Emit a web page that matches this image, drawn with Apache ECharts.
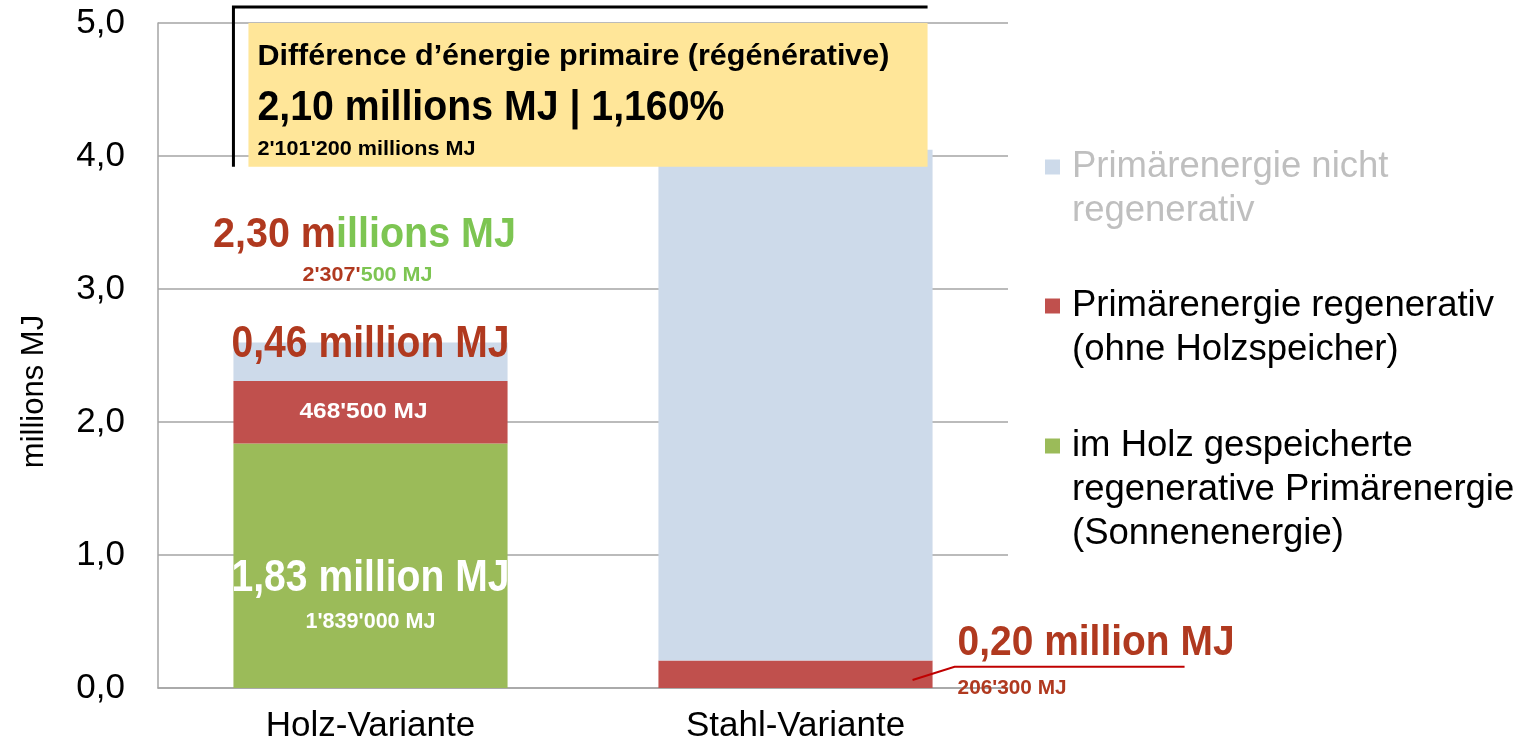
<!DOCTYPE html>
<html>
<head>
<meta charset="utf-8">
<script src="https://cdn.jsdelivr.net/npm/echarts@6.0.0/dist/echarts.min.js"></script>
<style>
html, body { margin: 0; padding: 0; background: #fff; }
#chart { width: 1537px; height: 751px; }
</style>
</head>
<body>
<div id="chart"></div>
<script>
// values in millions MJ
var categories = ['Holz-Variante', 'Stahl-Variante'];
var storedSolar = [1.839, 0];       // im Holz gespeichert
var renewable = [0.4685, 0.2063];   // regenerativ ohne Holzspeicher
var nonRenewable = [0.29, 3.84];    // nicht regenerativ
var yMin = 0, yMax = 5, yStep = 1;
var diffPercent = '1,160%';         // as printed in the source figure

var NAME_NON = 'Primärenergie nicht regenerativ';
var NAME_REN = 'Primärenergie regenerativ (ohne Holzspeicher)';
var NAME_SOL = 'im Holz gespeicherte regenerative Primärenergie (Sonnenenergie)';
var legendLines = {};
legendLines[NAME_NON] = ['Primärenergie nicht', 'regenerativ'];
legendLines[NAME_REN] = ['Primärenergie regenerativ', '(ohne Holzspeicher)'];
legendLines[NAME_SOL] = ['im Holz gespeicherte', 'regenerative Primärenergie', '(Sonnenenergie)'];

var FONT = '"Liberation Sans", Arial, sans-serif';
var RED_TXT = '#B0391F';
var GREEN_TXT = '#7DC552';

function mio(v) { return (Math.floor(v * 100 + 1e-6) / 100).toFixed(2).replace('.', ','); }
function mj(v) { return String(Math.round(v * 1e6)).replace(/\B(?=(\d{3})+(?!\d))/g, "'"); }

var chart = echarts.init(document.getElementById('chart'));

function legendFor(name, top, color) {
    return {
        data: [name],
        orient: 'vertical',
        left: 1045,
        top: top,
        padding: 0,
        icon: 'rect',
        itemWidth: 15,
        itemHeight: 15,
        selectedMode: false,
        formatter: function (n) {
            var lines = legendLines[n];
            // blank lines above so the square sits on the first line
            var pad = [];
            for (var i = 1; i < lines.length; i++) pad.push('');
            return pad.concat(lines).join('\n');
        },
        textStyle: {
            fontFamily: FONT,
            fontSize: 36.5,
            lineHeight: 44,
            color: color,
            padding: [0, 0, 0, 7]
        }
    };
}

var option = {
    animation: false,
    color: ['#9BBB59', '#C0504D', '#CDDAEA'],
    grid: { left: 158, right: 529, top: 23, bottom: 63 },
    legend: [
        legendFor(NAME_NON, 167 - 66, '#BFBFBF'),
        legendFor(NAME_REN, 306 - 66, '#000'),
        legendFor(NAME_SOL, 446 - 110, '#000')
    ],
    xAxis: {
        type: 'category',
        data: categories,
        axisLine: { lineStyle: { color: '#A5A5A5', width: 1.5 } },
        axisTick: { show: false },
        axisLabel: { color: '#000', fontFamily: FONT, fontSize: 35, margin: 21 }
    },
    yAxis: {
        type: 'value',
        min: yMin,
        max: yMax,
        interval: yStep,
        name: 'millions MJ',
        nameLocation: 'middle',
        nameRotate: 90,
        nameGap: 108,
        nameTextStyle: { color: '#000', fontFamily: FONT, fontSize: 31, padding: [0, 72, 0, 0] },
        axisLine: { show: true, lineStyle: { color: '#A5A5A5', width: 1.5 } },
        axisTick: { show: false },
        axisLabel: {
            color: '#000', fontFamily: FONT, fontSize: 35, margin: 33,
            formatter: function (v) { return v.toFixed(1).replace('.', ','); }
        },
        splitLine: { lineStyle: { color: '#A5A5A5', width: 1.5 } }
    },
    series: [
        { name: NAME_SOL, type: 'bar', stack: 'pe', barWidth: '64.5%', data: storedSolar },
        { name: NAME_REN, type: 'bar', stack: 'pe', data: renewable },
        { name: NAME_NON, type: 'bar', stack: 'pe', data: nonRenewable }
    ]
};
chart.setOption(option);

var measureCtx = document.createElement('canvas').getContext('2d');
// condensed bold text: Liberation Sans squeezed to a given width
function label(text, plain, size, width, x, y, fill, align, rich) {
    var font = 'bold ' + size + 'px ' + FONT;
    measureCtx.font = font;
    var sx = width / measureCtx.measureText(plain).width;
    var st = { text: text, x: 0, y: 0, font: font, fill: fill, align: align || 'left', verticalAlign: 'middle' };
    if (rich) st.rich = rich;
    return { type: 'text', z: 12, x: x, y: y, scaleX: sx, style: st };
}
function duo(size) {
    return { r: { fill: RED_TXT, font: 'bold ' + size + 'px ' + FONT },
             g: { fill: GREEN_TXT, font: 'bold ' + size + 'px ' + FONT } };
}

function pt(cat, v) { return chart.convertToPixel({ gridIndex: 0 }, [cat, v]); }

function annotate() {
    var h = pt(categories[0], 0);
    var s = pt(categories[1], 0);
    var band = s[0] - h[0];
    var barW = band * 0.645;
    var hL = h[0] - barW / 2;
    var sR = s[0] + barW / 2;
    function y(v) { return pt(categories[0], v)[1]; }
    var boxTop = y(5.0), boxBot = y(3.92), bracketTop = y(5.12);
    var boxR = sR - 5;

    var holzTotal = storedSolar[0] + renewable[0];
    var diff = holzTotal - renewable[1];
    var tA = mio(holzTotal), tB = mj(holzTotal);
    var splitA = tA + ' m', splitB = tB.slice(0, tB.length - 3);
    var big = mio(diff) + ' millions MJ | ' + diffPercent;

    var g = [
        { type: 'rect', z: 10, shape: { x: hL + 15, y: boxTop, width: boxR - hL - 15, height: boxBot - boxTop },
          style: { fill: '#FFE699' } },
        { type: 'polyline', z: 11, shape: { points: [[hL, boxBot], [hL, bracketTop], [boxR, bracketTop]] },
          style: { stroke: '#000', lineWidth: 3, fill: null } },
        label('Différence d’énergie primaire (régénérative)', 'Différence d’énergie primaire (régénérative)',
              30, 632, hL + 24, y(4.75), '#000'),
        label(big, big, 43, 467, hL + 24, y(4.36), '#000'),
        label(mj(diff) + ' millions MJ', mj(diff) + ' millions MJ', 21, 218, hL + 24, y(4.05), '#000'),
        label('{r|' + splitA + '}{g|illions MJ}', splitA + 'illions MJ', 42, 303, h[0] - 6, y(3.40), RED_TXT, 'center', duo(42)),
        label('{r|' + splitB + '}{g|' + tB.slice(tB.length - 3) + ' MJ}', tB + ' MJ', 21, 130, h[0] - 3, y(3.10), RED_TXT, 'center', duo(21)),
        label(mio(renewable[0]) + ' million MJ', mio(renewable[0]) + ' million MJ', 45, 278, h[0], y(2.58), RED_TXT, 'center'),
        label(mj(renewable[0]) + ' MJ', mj(renewable[0]) + ' MJ', 22, 128, h[0] - 7, y(storedSolar[0] + renewable[0] / 2), '#fff', 'center'),
        label(mio(storedSolar[0]) + ' million MJ', mio(storedSolar[0]) + ' million MJ', 45, 278, h[0], y(0.82), '#fff', 'center'),
        label(mj(storedSolar[0]) + ' MJ', mj(storedSolar[0]) + ' MJ', 22, 130, h[0], y(0.5), '#fff', 'center'),
        { type: 'polyline', z: 11, shape: { points: [[sR - 20, y(0.06)], [sR + 22, y(0.16)], [sR + 252, y(0.16)]] },
          style: { stroke: '#C00000', lineWidth: 2, fill: null } },
        label(mio(renewable[1]) + ' million MJ', mio(renewable[1]) + ' million MJ', 43, 277, sR + 25, y(0.34), RED_TXT),
        label(mj(renewable[1]) + ' MJ', mj(renewable[1]) + ' MJ', 21, 109, sR + 25, y(0.0), RED_TXT)
    ];
    chart.setOption({ graphic: g });
}
annotate();
</script>
</body>
</html>
